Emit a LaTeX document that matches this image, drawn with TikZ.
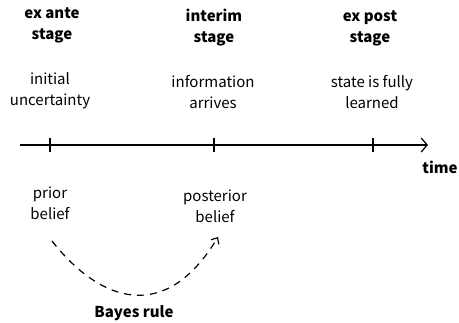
\documentclass[tikz,border=0pt]{standalone}
\usepackage{fontspec}
\setmainfont{Noto Sans CJK KR}
\usetikzlibrary{arrows.meta}
\begin{document}
\begin{tikzpicture}[x=1pt,y=-1pt,
  lbl/.style={align=center,font=\fontsize{15}{21}\selectfont,inner sep=0pt},
  stagelbl/.style={lbl,font=\fontsize{15}{21}\selectfont\bfseries},
  axis/.style={line width=1.2pt},
  tick/.style={line width=1.2pt},
  bayes/.style={line width=1.2pt,dash pattern=on 7pt off 6pt,-{Straight Barb[length=5pt,width=9pt]}}]
\useasboundingbox (0,0) rectangle (459,323);
% stage headings
\node[stagelbl] (ante) at (52,25) {ex ante\\stage};
\node[stagelbl] (interim) at (214,28) {interim\\stage};
\node[stagelbl] (post) at (370,28) {ex post\\stage};
% descriptions
\node[lbl] (unc) at (50,91) {initial\\uncertainty};
\node[lbl] (info) at (213,92) {information\\arrives};
\node[lbl] (learn) at (372,92) {state is fully\\learned};
% time axis
\coordinate (start) at (20,145);
\coordinate (tip) at (428,145);
\draw[axis,-{Straight Barb[length=6pt,width=14pt]}] (start) -- (tip);
\coordinate (t1) at (50,145);
\coordinate (t2) at (214,145);
\coordinate (t3) at (373,145);
\foreach \t in {t1,t2,t3} \draw[tick] ([yshift=-7pt]\t) -- ([yshift=7pt]\t);
\node[stagelbl] (time) at (440,167) {time};
% beliefs
\node[lbl] (prior) at (50,203) {prior\\belief};
\node[lbl] (posterior) at (215,206) {posterior\\belief};
\node[stagelbl] (bayesrule) at (134,313) {Bayes rule};
\coordinate (c0) at (52,241);
\coordinate (c1) at (218,237);
\draw[bayes] (c0) .. controls (100,302) and (165,325) .. (c1);
\end{tikzpicture}
\end{document}
